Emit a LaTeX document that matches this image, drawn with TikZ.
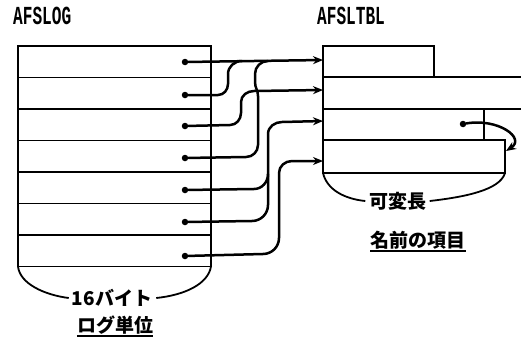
\documentclass[tikz,border=0pt]{standalone}
\usepackage{fontspec}
\newfontfamily\jp{Noto Sans CJK JP}
\newfontfamily\lbl{Liberation Mono}
\usetikzlibrary{arrows.meta}
\tikzset{
 rowbox/.style={draw, line width=1.5pt, minimum width=193pt, minimum height=31.5pt, inner sep=0pt, outer sep=0pt, anchor=north west},
 tblbox/.style={draw, line width=1.5pt, inner sep=0pt, outer sep=0pt, anchor=north west},
 dotnode/.style={circle, fill, inner sep=0pt, minimum size=6.5pt},
 conn/.style={line width=2.5pt, line cap=round, line join=round},
 arr/.style={conn, -{Stealth[length=10pt,width=8pt]}},
 jptext/.style={font=\jp\bfseries\fontsize{19}{19}\selectfont, inner sep=0pt},
 title/.style={font=\lbl\bfseries\fontsize{26}{26}\selectfont, inner sep=0pt, anchor=west},
 brace/.style={line width=1.8pt},
 frame/.style={line width=1.5pt},
}
\begin{document}
\begin{tikzpicture}[x=1pt,y=-1pt]
\useasboundingbox (0,0) rectangle (521,340);
% titles
\node[title] (tlog) at (13,16) {\scalebox{0.62}[1]{AFSLOG}};
\node[title] (ttbl) at (317,16) {\scalebox{0.62}[1]{AFSLTBL}};
% left box rows
\foreach \i in {0,...,6} \node[rowbox] (L\i) at (18,{46+31.5*\i}) {};
% dots
\node[dotnode] (d1) at (185,62) {};
\node[dotnode] (d2) at (185,95) {};
\node[dotnode] (d3) at (185,126) {};
\node[dotnode] (d4) at (185,158) {};
\node[dotnode] (d5) at (185,190) {};
\node[dotnode] (d6) at (185,222) {};
\node[dotnode] (d7) at (185,256) {};
% right table
\node[tblbox, minimum width=111pt, minimum height=31pt] (r1) at (323,46) {};
\node[tblbox, minimum width=200pt, minimum height=32pt] (r2) at (323,77) {};
\node[tblbox, minimum width=182pt, minimum height=33pt] (r4) at (323,140) {};
\draw[frame] (r2.south west) -- (r4.north west);
\coordinate (v3t) at (484,109);
\coordinate (v3b) at (484,140);
\draw[frame] (v3t) -- (v3b);
\node[dotnode] (dr) at (463,124) {};
\coordinate (ar) at (506,151);
\draw[arr] (dr) .. controls (498,118) and (526,138) .. (ar);
% arrow targets
\coordinate (a1) at (323,60);
\coordinate (a2) at (323,90);
\coordinate (a3) at (323,121);
\coordinate (a4) at (323,161);
\coordinate (m2) at (242,61);
\coordinate (m4) at (268,61);
\coordinate (m5) at (268,174);
% connectors
\draw[arr] (d1) -- (a1);
\draw[conn] (d2) -- (218,95) to[out=0,in=-90] (228,84) -- (228,74) to[out=90,in=180] (m2);
\draw[arr] (d3) -- (230,125) to[out=0,in=-90] (241,113) -- (241,102) to[out=90,in=180] (254,91) -- (a2);
\draw[conn] (d4) -- (246,157) to[out=0,in=-90] (258,145) -- (258,96) .. controls (258,90) and (255,88) .. (255,82) -- (255,74) to[out=90,in=180] (m4);
\draw[conn] (d5) -- (254,189) to[out=0,in=-90] (m5);
\draw[arr] (d6) -- (252,221) to[out=0,in=-90] (268,205) -- (268,134) to[out=90,in=180] (282,122) -- (a3);
\draw[arr] (d7) -- (263,254) to[out=0,in=-90] (279,238) -- (279,173) to[out=90,in=180] (292,161) -- (a4);
% left brace and labels
\node[jptext] (t16) at (112,298) {16バイト};
\draw[brace] (L6.south west) .. controls (20,284) and (45,295) .. ([xshift=-3pt]t16.west);
\draw[brace] ([xshift=4pt]t16.east) .. controls (185,295) and (208,284) .. (L6.south east);
\node[jptext] (tunit) at (115,325) {ログ単位};
\draw[frame] ([yshift=-1.5pt]tunit.south west) -- ([yshift=-1.5pt]tunit.south east);
% right brace and labels
\node[jptext] (tvar) at (398,201) {可変長};
\draw[brace] (r4.south west) .. controls (327,190) and (345,199) .. ([xshift=-4pt]tvar.west);
\draw[brace] ([xshift=3pt]tvar.east) .. controls (465,197) and (500,190) .. (r4.south east);
\node[jptext] (tname) at (418,240) {名前の項目};
\draw[frame] ([yshift=-1.5pt]tname.south west) -- ([yshift=-1.5pt]tname.south east);
\end{tikzpicture}
\end{document}
